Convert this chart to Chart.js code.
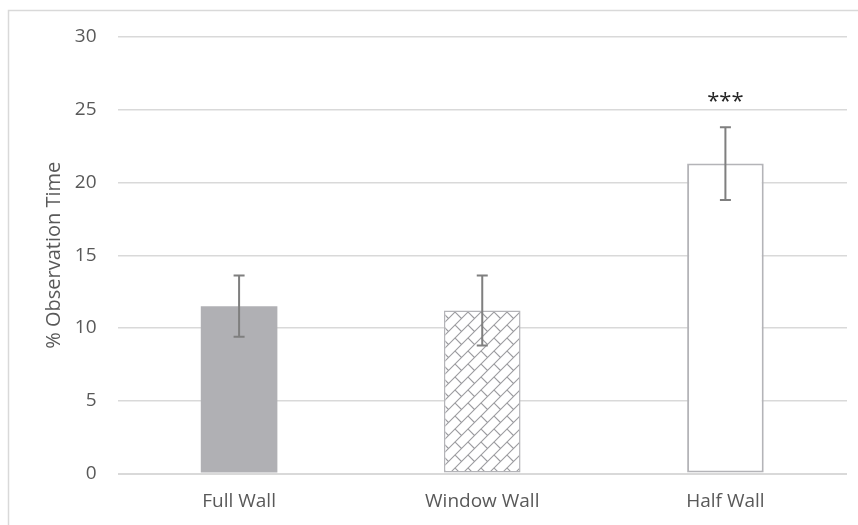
<!DOCTYPE html>
<html>
<head>
<meta charset="utf-8">
<script src="https://cdn.jsdelivr.net/npm/chart.js@4.4.0/dist/chart.umd.min.js"></script>
<style>
  html, body { margin: 0; padding: 0; background: #ffffff; }
  canvas { display: block; }
</style>
</head>
<body>
<canvas id="chart" width="858" height="525"></canvas>
<script>
// Wall conditions and mean share of observation time (%)
const categories = ['Full Wall', 'Window Wall', 'Half Wall'];
const meanValues = [11.5, 11.2, 21.3];
const errorValues = [2.1, 2.4, 2.5];
const significance = ['', '', '***'];
const yTicks = [0, 5, 10, 15, 20, 25, 30];

const TEXT = '#595959';
const GRID = '#d9d9d9';
const FONT = '"Open Sans", sans-serif';

// Diagonal brick hatch used for the middle bar
function brickPattern() {
  const s = 13;
  const tile = document.createElement('canvas');
  tile.width = s; tile.height = s;
  const t = tile.getContext('2d');
  t.fillStyle = '#ffffff';
  t.fillRect(0, 0, s, s);
  t.strokeStyle = '#9c9ca0';
  t.lineWidth = 1.1;
  for (let dx = -s; dx <= s; dx += s) {
    for (let dy = -s; dy <= s; dy += s) {
      t.beginPath();
      t.moveTo(dx, dy + s); t.lineTo(dx + s, dy);
      t.moveTo(dx, dy); t.lineTo(dx + s / 2, dy + s / 2);
      t.stroke();
    }
  }
  return t.createPattern(tile, 'repeat');
}

// Light frame around the whole figure
const framePlugin = {
  id: 'frame',
  beforeDraw(chart) {
    const c = chart.ctx;
    c.save();
    c.strokeStyle = '#d9d9d9';
    c.lineWidth = 1.5;
    c.strokeRect(8.5, 10.5, chart.width + 20, chart.height + 20);
    c.restore();
  }
};

// Error bars with caps plus significance marks
const errorBarPlugin = {
  id: 'errorBars',
  afterDatasetsDraw(chart) {
    const c = chart.ctx;
    const meta = chart.getDatasetMeta(0);
    const y = chart.scales.y;
    c.save();
    meta.data.forEach((bar, i) => {
      const hi = y.getPixelForValue(meanValues[i] + errorValues[i]);
      const lo = y.getPixelForValue(meanValues[i] - errorValues[i]);
      const x = bar.x;
      c.strokeStyle = '#7f7f7f';
      c.lineWidth = 2;
      c.beginPath();
      c.moveTo(x, hi); c.lineTo(x, lo);
      c.moveTo(x - 5.5, hi); c.lineTo(x + 5.5, hi);
      c.moveTo(x - 5.5, lo); c.lineTo(x + 5.5, lo);
      c.stroke();
      if (significance[i]) {
        c.fillStyle = '#262626';
        c.font = '22px ' + FONT;
        c.textAlign = 'center';
        c.textBaseline = 'middle';
        c.fillText(significance[i], x, hi - 25);
      }
    });
    c.restore();
  }
};

new Chart(document.getElementById('chart'), {
  type: 'bar',
  data: {
    labels: categories,
    datasets: [{
      data: meanValues,
      backgroundColor: ['#b0b0b4', brickPattern(), '#ffffff'],
      borderColor: ['#b0b0b4', '#b4b4b8', '#b4b4b8'],
      borderWidth: [0, 1.5, 2],
      borderSkipped: false,
      categoryPercentage: 1,
      barPercentage: 0.315
    }]
  },
  options: {
    responsive: false,
    devicePixelRatio: 1,
    animation: false,
    layout: { padding: { left: 0, right: 11, top: 37, bottom: 0 } },
    plugins: {
      legend: { display: false },
      tooltip: { enabled: false }
    },
    scales: {
      x: {
        grid: { display: false, drawTicks: false },
        border: { display: false },
        ticks: {
          color: TEXT,
          font: { family: FONT, size: 19 },
          padding: 17
        },
        afterFit(scale) { scale.height = 51.5; }
      },
      y: {
        min: 0,
        max: 30,
        afterBuildTicks(scale) { scale.ticks = yTicks.map(v => ({ value: v })); },
        grid: {
          color: GRID,
          lineWidth: ctx => (ctx.tick && ctx.tick.value === 0 ? 2 : 1.5),
          drawTicks: false
        },
        border: { display: false },
        ticks: {
          color: TEXT,
          font: { family: FONT, size: 19 },
          padding: 21
        },
        title: {
          display: true,
          text: '% Observation Time',
          color: TEXT,
          font: { family: FONT, size: 20 },
          padding: { top: 42, bottom: 0 }
        },
        afterFit(scale) { scale.width = 117.5; }
      }
    }
  },
  plugins: [framePlugin, errorBarPlugin]
});
</script>
</body>
</html>
